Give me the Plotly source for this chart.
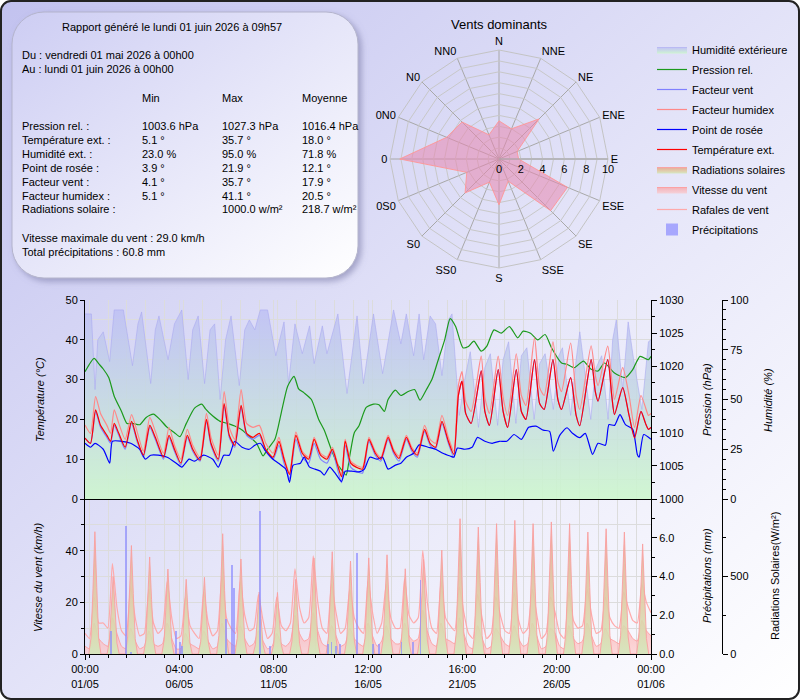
import base64

import pandas as pd
import plotly.graph_objects as go

FONT = "Liberation Sans, Arial, sans-serif"
GRID = "#dcdcdc"

# ---------------- report box text ----------------
report_title = "Rapport généré le lundi 01 juin 2026 à 09h57"
period_from = "Du : vendredi 01 mai 2026 à 00h00"
period_to = "Au : lundi 01 juin 2026 à 00h00"
stat_headers = ["Min", "Max", "Moyenne"]
stat_labels = ["Pression rel. :", "Température ext. :", "Humidité ext. :", "Point de rosée :",
               "Facteur vent :", "Facteur humidex :", "Radiations solaire :"]
stat_min = ["1003.6 hPa", "5.1 °", "23.0 %", "3.9 °", "4.1 °", "5.1 °", ""]
stat_max = ["1027.3 hPa", "35.7 °", "95.0 %", "21.9 °", "35.7 °", "41.1 °", "1000.0 w/m²"]
stat_mean = ["1016.4 hPa", "18.0 °", "71.8 %", "12.1 °", "17.9 °", "20.5 °", "218.7 w/m²"]
wind_max_text = "Vitesse maximale du vent : 29.0 km/h"
rain_total_text = "Total précipitations : 60.8 mm"

# ---------------- wind rose ----------------
rose_dirs = ["N", "NNE", "NE", "ENE", "E", "ESE", "SE", "SSE",
             "S", "SS0", "S0", "0S0", "0", "0N0", "N0", "NN0"]
rose_r = [3.5, 3.0, 5.2, 1.8, 1.8, 6.8, 6.7, 2.2,
          4.2, 2.3, 4.4, 3.2, 9.1, 5.2, 4.8, 2.4]

# ---------------- top chart (time in days since 01/05 00:00) ----------------
temp_day = [0.0, 0.3, 0.58, 0.85, 1.2, 1.4, 1.6, 1.85, 2.2, 2.55,
            2.85, 3.2, 3.55, 3.85, 4.3, 4.6, 4.9, 5.25, 5.6, 5.9,
            6.3, 6.65, 6.9, 7.3, 7.62, 7.9, 8.2, 8.55, 8.85, 9.2,
            9.55, 9.9, 10.3, 10.62, 10.9, 11.2, 11.55, 11.9, 12.25, 12.55,
            12.9, 13.25, 13.55, 13.8, 14.05, 14.25, 14.55, 14.85, 15.2, 15.55,
            15.9, 16.2, 16.6, 16.9, 17.2, 17.6, 17.9, 18.2, 18.6, 18.9,
            19.2, 19.55, 19.9, 20.2, 20.45, 20.65, 20.85, 21.15, 21.7, 21.9,
            22.15, 22.63, 22.9, 23.15, 23.62, 23.9, 24.15, 24.62, 24.9, 25.15,
            25.63, 25.9, 26.1, 26.6, 26.9, 27.1, 27.72, 27.95, 28.1, 28.63,
            28.85, 29.0, 29.45, 29.8, 30.1, 30.45, 30.7, 30.86, 31.0]
temp_c = [15.3, 14.0, 22.4, 18.5, 16.0, 14.5, 19.0, 16.5, 13.0, 19.5,
          15.0, 11.0, 18.5, 15.5, 10.5, 16.0, 12.5, 9.0, 16.0, 12.5,
          9.8, 20.0, 14.0, 10.0, 24.0, 16.0, 13.5, 23.5, 16.5, 15.5,
          16.5, 12.5, 10.5, 14.5, 10.0, 6.2, 16.0, 11.5, 10.0, 15.0,
          11.0, 10.0, 12.5, 9.0, 5.6, 14.5, 9.0, 8.0, 7.5, 15.0,
          11.5, 10.0, 15.5, 12.0, 10.2, 15.5, 12.5, 11.0, 17.5, 14.0,
          13.0, 19.5, 14.5, 11.2, 26.0, 29.6, 21.5, 19.0, 32.2, 22.0,
          18.5, 32.5, 22.0, 18.0, 32.5, 22.0, 20.0, 35.0, 24.0, 22.5,
          35.0, 25.0, 22.5, 30.5, 21.0, 18.4, 35.0, 27.0, 24.6, 35.0,
          26.0, 21.2, 28.0, 21.0, 15.4, 22.0, 19.0, 17.5, 18.0]
humidex_c = [18.6, 16.5, 25.7, 21.5, 18.5, 16.5, 22.4, 19.0, 15.0, 21.2,
             17.0, 12.0, 20.5, 17.0, 11.5, 18.0, 13.5, 10.0, 17.5, 13.5,
             10.5, 21.5, 15.5, 11.0, 27.0, 18.0, 15.0, 27.5, 19.0, 18.0,
             18.5, 14.0, 11.5, 15.5, 10.5, 6.5, 16.8, 12.0, 10.5, 15.5,
             11.5, 10.5, 13.0, 9.5, 5.8, 15.0, 9.5, 8.5, 8.0, 15.5,
             12.0, 10.5, 16.0, 12.5, 10.8, 16.0, 13.0, 11.5, 18.5, 15.0,
             14.0, 21.0, 15.5, 12.0, 28.5, 32.0, 24.5, 22.0, 35.9, 25.5,
             21.5, 35.9, 25.5, 21.0, 36.5, 26.0, 23.5, 40.5, 28.0, 26.0,
             39.5, 29.5, 27.0, 39.2, 26.0, 22.5, 38.5, 31.0, 28.5, 38.4,
             30.0, 25.0, 33.0, 26.0, 18.0, 26.0, 23.0, 21.0, 21.5]
windchill_c = [15.3, 14.0, 22.0, 18.0, 15.5, 14.0, 18.5, 16.0, 12.5, 19.0,
               14.5, 10.5, 18.0, 15.0, 10.0, 15.5, 12.0, 8.5, 15.5, 12.0,
               9.5, 19.5, 13.5, 9.5, 23.5, 15.5, 13.0, 23.0, 16.0, 15.0,
               16.0, 12.0, 10.0, 13.5, 9.0, 5.2, 15.0, 10.5, 9.0, 14.0,
               10.0, 9.0, 12.0, 8.0, 4.1, 13.5, 8.0, 7.0, 6.5, 14.5,
               11.0, 9.5, 15.0, 11.5, 9.5, 15.0, 12.0, 10.5, 17.0, 13.5,
               12.5, 19.0, 14.0, 10.5, 26.0, 29.6, 21.5, 19.0, 32.2, 22.0,
               18.5, 32.5, 22.0, 18.0, 32.5, 22.0, 20.0, 35.0, 24.0, 22.5,
               35.0, 25.0, 22.5, 30.5, 21.0, 18.4, 35.0, 27.0, 24.6, 35.0,
               26.0, 21.2, 28.0, 21.0, 15.4, 22.0, 19.0, 17.5, 18.0]

dew_day = [0.0, 0.3, 0.55, 1.0, 1.35, 1.5, 2.0, 2.5, 3.0, 3.3,
           3.6, 4.0, 4.5, 5.0, 5.3, 5.7, 6.0, 6.5, 7.0, 7.3,
           7.6, 7.9, 8.2, 8.6, 9.0, 9.3, 9.6, 9.9, 10.3, 10.6,
           11.0, 11.2, 11.4, 11.8, 12.0, 12.3, 12.6, 12.9, 13.1, 13.4,
           13.7, 14.05, 14.25, 14.6, 15.0, 15.3, 15.6, 16.0, 16.3, 16.6,
           17.0, 17.3, 17.6, 18.0, 18.3, 18.8, 19.2, 19.6, 20.0, 20.2,
           20.4, 20.8, 21.2, 21.5, 21.9, 22.3, 22.7, 23.1, 23.5, 23.9,
           24.3, 24.7, 25.1, 25.45, 25.65, 26.0, 26.4, 26.7, 27.1, 27.4,
           27.8, 28.1, 28.5, 28.7, 29.0, 29.3, 29.6, 30.0, 30.25, 30.35,
           30.6, 31.0]
dew_c = [14.0, 13.0, 14.0, 12.5, 9.0, 14.5, 14.5, 14.0, 12.5, 10.0,
         11.0, 11.0, 10.5, 9.0, 8.0, 10.0, 9.5, 11.0, 10.0, 8.0,
         11.0, 11.0, 14.5, 13.0, 12.5, 13.5, 14.0, 12.0, 10.0, 9.0,
         7.5, 4.2, 8.5, 9.0, 10.5, 8.0, 7.5, 7.0, 6.0, 8.0,
         6.5, 4.4, 7.0, 7.0, 6.8, 7.5, 10.5, 10.0, 10.5, 7.5,
         8.5, 9.0, 10.5, 11.5, 13.6, 13.0, 12.5, 11.5, 10.8, 10.5,
         12.8, 12.5, 13.0, 15.5, 14.5, 14.0, 14.5, 14.5, 16.2, 15.0,
         18.0, 18.3, 17.3, 17.0, 12.0, 16.0, 17.9, 16.5, 15.4, 16.5,
         11.2, 14.0, 13.5, 18.7, 18.5, 21.2, 18.7, 17.5, 11.2, 10.5,
         16.2, 15.0]

press_day = [0.0, 0.5, 0.75, 1.0, 1.3, 1.6, 2.0, 2.3, 2.6, 3.0,
             3.35, 3.75, 4.1, 4.5, 4.9, 5.2, 5.55, 6.0, 6.4, 6.6,
             7.0, 7.4, 7.8, 8.2, 8.6, 9.0, 9.4, 9.75, 10.0, 10.4,
             10.75, 11.1, 11.45, 11.7, 12.0, 12.4, 12.8, 13.1, 13.5, 13.8,
             14.05, 14.3, 14.5, 14.75, 15.0, 15.4, 15.8, 16.1, 16.4, 16.6,
             17.0, 17.3, 17.7, 18.05, 18.35, 18.7, 19.0, 19.35, 19.7, 20.0,
             20.3, 20.7, 21.0, 21.3, 21.7, 22.0, 22.4, 22.8, 23.25, 23.7,
             24.0, 24.4, 24.8, 25.2, 25.55, 26.1, 26.4, 26.8, 27.3, 27.7,
             28.1, 28.45, 29.0, 29.6, 30.0, 30.4, 30.86, 31.0]
press_hpa = [1019.2, 1021.2, 1020.4, 1019.6, 1018.3, 1015.5, 1013.2, 1011.4, 1011.4, 1011.2,
             1012.3, 1012.8, 1012.0, 1010.8, 1010.0, 1009.4, 1011.4, 1013.7, 1014.3, 1013.6,
             1012.5, 1011.7, 1011.4, 1011.0, 1010.4, 1009.4, 1008.4, 1006.5, 1007.5, 1009.0,
             1013.0, 1017.0, 1018.5, 1016.6, 1016.0, 1015.0, 1012.0, 1010.4, 1007.4, 1005.4,
             1004.4, 1003.6, 1006.5, 1010.0, 1011.0, 1013.8, 1014.3, 1014.2, 1013.2, 1015.0,
             1016.4, 1015.6, 1016.2, 1016.5, 1014.9, 1016.5, 1018.0, 1021.0, 1024.0, 1027.2,
             1026.0, 1022.8, 1023.0, 1023.8, 1022.3, 1023.0, 1025.5, 1025.0, 1026.0, 1024.3,
             1025.3, 1025.0, 1024.0, 1024.8, 1022.8, 1020.5, 1020.3, 1019.8, 1020.8, 1019.6,
             1019.3, 1020.5, 1019.0, 1018.3, 1019.5, 1021.5, 1021.0, 1021.5]

hum_day = [0.0, 0.35, 0.55, 0.7, 1.0, 1.35, 1.6, 2.1, 2.6, 2.9,
           3.1, 3.6, 3.85, 4.05, 4.55, 4.9, 5.3, 5.65, 5.9, 6.2,
           6.55, 6.85, 7.1, 7.4, 7.7, 8.0, 8.45, 8.75, 9.0, 9.3,
           9.6, 10.0, 10.45, 10.9, 11.15, 11.5, 11.9, 12.3, 12.55, 13.0,
           13.25, 13.85, 14.35, 14.9, 15.25, 15.8, 16.3, 16.9, 17.3, 17.6,
           18.0, 18.3, 18.55, 18.9, 19.2, 19.55, 19.9, 20.1, 20.5, 20.8,
           21.1, 21.55, 21.9, 22.2, 22.6, 22.9, 23.2, 23.6, 23.9, 24.2,
           24.6, 24.9, 25.2, 25.65, 25.95, 26.15, 26.6, 26.9, 27.1, 27.7,
           27.95, 28.3, 28.65, 28.9, 29.1, 29.45, 29.75, 30.05, 30.5, 30.86,
           31.0]
hum_pct = [93, 93, 55, 80, 84, 69, 95, 95, 67, 88,
           94, 58, 85, 92, 70, 88, 95, 60, 85, 92,
           58, 85, 88, 50, 80, 92, 57, 85, 90, 85,
           95, 95, 72, 89, 58, 88, 73, 87, 68, 87,
           73, 93, 53, 92, 58, 93, 63, 95, 78, 93,
           72, 93, 70, 92, 88, 62, 90, 93, 42, 60,
           74, 36, 66, 73, 37, 70, 79, 38, 72, 76,
           40, 68, 73, 45, 72, 76, 42, 70, 84, 40,
           65, 72, 40, 80, 90, 55, 89, 70, 45, 79,
           80]

# ---------------- bottom chart ----------------
# wind speed / gusts every 6 h (00h, 06h, 12h, 18h)
wind_kmh = [3, 2, 12, 6,  4, 3, 14, 8,  3, 2, 10, 5,  2, 3, 9, 4,
            3, 4, 12, 6,  2, 2, 8, 4,  3, 2, 9, 5,  2, 3, 12, 6,
            4, 3, 11, 6,  3, 4, 9, 5,  2, 3, 8, 4,  3, 5, 15, 8,
            5, 6, 16, 9,  4, 3, 11, 7,  3, 4, 10, 6,  4, 3, 12, 7,
            3, 5, 11, 6,  4, 4, 12, 7,  5, 6, 17, 9,  4, 3, 12, 6,
            5, 4, 14, 8,  3, 2, 11, 6,  2, 3, 10, 7,  4, 3, 11, 6,
            3, 4, 12, 7,  2, 3, 10, 8,  3, 2, 11, 6,  4, 5, 12, 7,
            3, 4, 10, 6,  5, 4, 11, 9,  6, 5, 13, 9,  7]
gust_kmh = [8, 6, 22, 12,  12, 10, 35, 18,  9, 7, 26, 14,  7, 8, 25, 12,
            8, 10, 28, 14,  6, 7, 22, 11,  8, 6, 24, 12,  7, 9, 30, 14,
            10, 8, 28, 15,  9, 10, 23, 13,  6, 8, 22, 11,  9, 12, 33, 18,
            12, 14, 38, 20,  10, 8, 27, 16,  8, 10, 25, 14,  10, 8, 28, 16,
            8, 12, 27, 14,  10, 10, 29, 15,  12, 14, 40, 20,  10, 8, 28, 14,
            11, 9, 26, 16,  8, 6, 23, 14,  6, 8, 22, 15,  9, 8, 24, 13,
            8, 10, 25, 15,  6, 8, 22, 16,  8, 6, 24, 13,  10, 11, 25, 15,
            8, 9, 22, 14,  11, 10, 24, 18,  13, 12, 27, 20,  16]

# solar radiation, one row per day at these hours
solar_hours = [5, 8, 10.5, 13, 15.5, 18, 21]
solar_wm2 = [
    [0, 110, 420, 789, 430, 100, 0], [0, 80, 280, 500, 300, 70, 0],
    [0, 110, 380, 700, 390, 100, 0], [0, 90, 340, 626, 350, 90, 0],
    [0, 90, 300, 548, 310, 80, 0], [0, 70, 260, 482, 270, 70, 0],
    [0, 80, 270, 495, 260, 80, 0], [0, 120, 420, 776, 410, 110, 0],
    [0, 100, 340, 613, 330, 90, 0], [0, 60, 220, 400, 230, 60, 0],
    [0, 60, 210, 397, 220, 60, 0], [0, 80, 260, 482, 270, 70, 0],
    [0, 100, 340, 620, 350, 90, 0], [0, 110, 360, 660, 350, 100, 0],
    [0, 90, 330, 600, 320, 90, 0], [0, 100, 340, 620, 340, 90, 0],
    [0, 100, 350, 640, 350, 100, 0], [0, 90, 300, 550, 290, 80, 0],
    [0, 100, 330, 610, 340, 90, 0], [0, 110, 370, 670, 360, 100, 0],
    [0, 140, 470, 873, 480, 130, 0], [0, 130, 450, 819, 460, 120, 0],
    [0, 140, 460, 841, 450, 130, 0], [0, 140, 470, 862, 460, 130, 0],
    [0, 130, 460, 841, 460, 120, 0], [0, 140, 470, 852, 470, 130, 0],
    [0, 130, 460, 841, 450, 120, 0], [0, 120, 430, 787, 430, 110, 0],
    [0, 130, 440, 808, 440, 120, 0], [0, 120, 430, 787, 420, 110, 0],
    [0, 110, 390, 710, 400, 100, 0],
]

# rain events: hour since start, mm
precip_hour = [34.5, 53.3, 60.8, 120, 124.3, 127, 185.8, 193.1, 196.3, 229.6, 242.7,
               319, 324, 329.6, 334.8, 358, 378, 387, 416, 431, 441]
precip_mm = [1.2, 6.6, 0.1, 1.2, 0.6, 0.4, 1.8, 4.6, 3.4, 7.4, 0.4,
             0.5, 0.6, 0.4, 0.5, 5.2, 0.5, 0.5, 0.6, 0.6, 3.8]

t_start = pd.Timestamp("2026-05-01 00:00")
t_end = pd.Timestamp("2026-06-01 00:00")


def days(d):
    return t_start + pd.to_timedelta(d, unit="D")


t6 = pd.date_range(t_start, periods=len(wind_kmh), freq="6h")
sol_x, sol_y = [], []
for i, row in enumerate(solar_wm2):
    for h, v in zip(solar_hours, row):
        sol_x.append(t_start + pd.Timedelta(days=i, hours=h))
        sol_y.append(v)
precip_x = t_start + pd.to_timedelta(precip_hour, unit="h")


def px(x):
    return x / 800


def py(y):
    return 1 - y / 700


fig = go.Figure()

# top chart
fig.add_trace(go.Scatter(
    x=days(hum_day), y=hum_pct, name="Humidité extérieure", xaxis="x2", yaxis="y",
    mode="lines", line=dict(color="rgba(170,170,240,0.6)", width=1),
    fill="tozeroy",
    fillgradient=dict(type="vertical", start=0, stop=100,
                      colorscale=[[0, "rgba(205,247,205,0.9)"], [1, "rgba(188,188,246,0.8)"]]),
    legendgroup="a1"))
fig.add_trace(go.Scatter(
    x=days(press_day), y=press_hpa, name="Pression rel.", xaxis="x2", yaxis="y2",
    mode="lines", line=dict(color="#1c9a1c", width=1.2, shape="spline", smoothing=0.6),
    legendgroup="a2"))
fig.add_trace(go.Scatter(
    x=days(temp_day), y=windchill_c, name="Facteur vent", xaxis="x2", yaxis="y3",
    mode="lines", line=dict(color="#8080ff", width=1.2, shape="spline", smoothing=0.6),
    legendgroup="a3"))
fig.add_trace(go.Scatter(
    x=days(temp_day), y=humidex_c, name="Facteur humidex", xaxis="x2", yaxis="y3",
    mode="lines", line=dict(color="#ff8888", width=1.2, shape="spline", smoothing=0.6),
    legendgroup="a4"))
fig.add_trace(go.Scatter(
    x=days(dew_day), y=dew_c, name="Point de rosée", xaxis="x2", yaxis="y3",
    mode="lines", line=dict(color="#0000ff", width=1.2, shape="spline", smoothing=0.6),
    legendgroup="a5"))
fig.add_trace(go.Scatter(
    x=days(temp_day), y=temp_c, name="Température ext.", xaxis="x2", yaxis="y3",
    mode="lines", line=dict(color="#ff0000", width=1.2, shape="spline", smoothing=0.6),
    legendgroup="a6"))

# bottom chart
fig.add_trace(go.Scatter(
    x=sol_x, y=sol_y, name="Radiations solaires", xaxis="x", yaxis="y5",
    mode="lines", line=dict(color="rgba(250,160,160,0.9)", width=1),
    fill="tozeroy",
    fillgradient=dict(type="vertical", start=0, stop=850,
                      colorscale=[[0, "rgba(210,232,185,0.85)"], [0.35, "rgba(222,208,168,0.9)"],
                                  [1, "rgba(232,168,148,0.95)"]]),
    legendgroup="a7"))
fig.add_trace(go.Scatter(
    x=t6, y=wind_kmh, name="Vitesse du vent", xaxis="x", yaxis="y4",
    mode="lines", line=dict(color="rgba(255,150,150,0.8)", width=1, shape="spline", smoothing=0.5),
    fill="tozeroy",
    fillgradient=dict(type="vertical", start=0, stop=16,
                      colorscale=[[0, "rgba(255,195,195,0.6)"], [1, "rgba(250,150,150,0.65)"]]),
    legendgroup="a8"))
fig.add_trace(go.Scatter(
    x=t6, y=gust_kmh, name="Rafales de vent", xaxis="x", yaxis="y4",
    mode="lines", line=dict(color="rgba(255,165,165,0.95)", width=1.2, shape="spline", smoothing=0.5),
    legendgroup="a9"))
fig.add_trace(go.Bar(
    x=precip_x, y=precip_mm, name="Précipitations", xaxis="x", yaxis="y6",
    width=2.5 * 3600 * 1000, marker=dict(color="rgba(140,140,255,0.7)", line=dict(width=0)),
    legendgroup="b1"))

# wind rose
fig.add_trace(go.Scatterpolar(
    r=rose_r + rose_r[:1], theta=rose_dirs + rose_dirs[:1], mode="lines",
    fill="toself", fillcolor="rgba(232,135,175,0.55)",
    line=dict(color="rgba(255,150,150,0.9)", width=1), showlegend=False))

# ---------------- annotations ----------------
ann = []


def txt(text, x, y, size=11, xanchor="left", angle=0):
    ann.append(dict(text=text, x=px(x), y=py(y), xref="paper", yref="paper",
                    xanchor=xanchor, yanchor="middle", showarrow=False, textangle=angle,
                    font=dict(family=FONT, size=size, color="black")))


txt(report_title, 60, 27)
txt(period_from, 20, 55)
txt(period_to, 20, 69)
for head, cx in zip(stat_headers, [140, 220, 300]):
    txt(head, cx, 98)
for i, lab in enumerate(stat_labels):
    y = 126 + 13.9 * i
    txt(lab, 20, y)
    txt(stat_min[i], 140, y)
    txt(stat_max[i], 220, y)
    txt(stat_mean[i], 300, y)
txt(wind_max_text, 20, 238)
txt(rain_total_text, 20, 252)

txt("Vents dominants", 499, 25, size=13, xanchor="center")

txt("<i>Température (°C)</i>", 40, 400, xanchor="center", angle=-90)
txt("<i>Pression (hPa)</i>", 707, 400, xanchor="center", angle=-90)
txt("<i>Humidité (%)</i>", 768, 400, xanchor="center", angle=-90)
txt("<i>Vitesse du vent (km/h)</i>", 38, 577, xanchor="center", angle=-90)
txt("<i>Précipitations (mm)</i>", 707, 576, xanchor="center", angle=-90)
txt("Radiations Solaires(W/m²)", 775, 576, xanchor="center", angle=-90)

# ---------------- background ----------------
svg = """<svg xmlns="http://www.w3.org/2000/svg" width="800" height="700" viewBox="0 0 800 700">
<defs>
<linearGradient id="bg" x1="0" y1="0" x2="1" y2="1">
<stop offset="0" stop-color="#c2c2ef"/><stop offset="0.55" stop-color="#e6e6f9"/><stop offset="1" stop-color="#ffffff"/>
</linearGradient>
<linearGradient id="box" x1="0" y1="0" x2="1" y2="1">
<stop offset="0" stop-color="#cdcdf3"/><stop offset="1" stop-color="#ffffff"/>
</linearGradient>
<filter id="sh" x="-10%" y="-10%" width="130%" height="130%">
<feDropShadow dx="3" dy="3" stdDeviation="3" flood-color="#7070a0" flood-opacity="0.55"/>
</filter>
</defs>
<rect x="1" y="1" width="798" height="698" rx="10" fill="url(#bg)" stroke="#222" stroke-width="2"/>
<rect x="12" y="12" width="346" height="266" rx="32" fill="url(#box)" stroke="#b4b4cc" stroke-width="1" filter="url(#sh)"/>
</svg>"""
bg_src = "data:image/svg+xml;base64," + base64.b64encode(svg.encode("utf-8")).decode("ascii")

ms_h = 3600 * 1000
xdom = [px(85), px(651)]
x_minor = dict(dtick=24.8 * ms_h, showgrid=True, gridcolor=GRID, gridwidth=1)

fig.update_layout(
    width=800, height=700,
    margin=dict(l=0, r=0, t=0, b=0, autoexpand=False),
    paper_bgcolor="white", plot_bgcolor="white",
    font=dict(family=FONT, size=11, color="black"),
    annotations=ann,
    images=[dict(source=bg_src, xref="paper", yref="paper", x=0, y=1, sizex=1, sizey=1,
                 xanchor="left", yanchor="top", sizing="stretch", layer="below")],
    legend=dict(x=px(652), y=py(35), xanchor="left", yanchor="top",
                bgcolor="rgba(0,0,0,0)", font=dict(family=FONT, size=11),
                tracegroupgap=1, itemwidth=30),
    bargap=0,
    xaxis=dict(domain=xdom, anchor="y4", type="date", range=[t_start, t_end],
               tick0=t_start, dtick=124 * ms_h, tickformat="%H:%M<br>%d/%m",
               ticks="outside", ticklen=5, tickcolor="black",
               showgrid=True, gridcolor=GRID, showline=True, linecolor="black", linewidth=1,
               zeroline=False,
               minor=dict(x_minor, ticks="outside", ticklen=3, tickcolor="black")),
    xaxis2=dict(domain=xdom, anchor="y", type="date", matches="x",
                tick0=t_start, dtick=124 * ms_h, showticklabels=False, ticks="",
                showgrid=True, gridcolor=GRID, showline=True, linecolor="black", linewidth=1,
                zeroline=False, minor=x_minor),
    # humidity (main of top chart)
    yaxis=dict(domain=[py(499), py(300)], anchor="free", position=px(722), side="right",
               range=[0, 100], tickvals=[0, 25, 50, 75, 100], ticks="outside", ticklen=5,
               tickcolor="black", showgrid=False, zeroline=False, showline=True,
               linecolor="black", minor=dict(dtick=5, ticks="outside", ticklen=3, tickcolor="black")),
    yaxis2=dict(overlaying="y", anchor="x2", side="right", range=[1000, 1030],
                tickvals=[1000, 1005, 1010, 1015, 1020, 1025, 1030], ticks="outside", ticklen=5,
                tickcolor="black", showgrid=False, zeroline=False, showline=True, linecolor="black",
                minor=dict(dtick=2.5, ticks="outside", ticklen=3, tickcolor="black")),
    yaxis3=dict(overlaying="y", anchor="x2", side="left", range=[0, 50],
                tickvals=[0, 10, 20, 30, 40, 50], ticks="outside", ticklen=4, tickcolor="black",
                showgrid=True, gridcolor=GRID, zeroline=False, showline=True, linecolor="black",
                minor=dict(dtick=5, showgrid=True, gridcolor=GRID)),
    # wind (main of bottom chart)
    yaxis4=dict(domain=[py(654), py(499)], anchor="x", side="left", range=[0, 60],
                tickvals=[0, 20, 40], ticks="outside", ticklen=4, tickcolor="black",
                showgrid=True, gridcolor=GRID, zeroline=False, showline=True, linecolor="black",
                minor=dict(dtick=10, showgrid=True, gridcolor=GRID, ticks="outside", ticklen=3,
                           tickcolor="black")),
    yaxis5=dict(overlaying="y4", anchor="free", position=px(722), side="right", range=[0, 1000],
                tickvals=[0, 500], ticks="outside", ticklen=5, tickcolor="black",
                showgrid=False, zeroline=False, showline=True, linecolor="black",
                minor=dict(dtick=250, ticks="outside", ticklen=3, tickcolor="black")),
    yaxis6=dict(overlaying="y4", anchor="x", side="right", range=[0, 8],
                tickvals=[0, 2, 4, 6], tickformat=".1f", ticks="outside", ticklen=5,
                tickcolor="black", showgrid=False, zeroline=False, showline=True,
                linecolor="black", minor=dict(dtick=1, ticks="outside", ticklen=3, tickcolor="black")),
    polar=dict(
        domain=dict(x=[px(390), px(608)], y=[py(268), py(50)]),
        bgcolor="rgba(0,0,0,0)", gridshape="linear",
        angularaxis=dict(type="category", categoryarray=rose_dirs, rotation=90,
                         direction="clockwise", gridcolor="#a8a8a8", linecolor="#c4c4c4",
                         tickfont=dict(family=FONT, size=11), ticks=""),
        radialaxis=dict(range=[0, 10], tickvals=list(range(11)),
                        ticktext=["0", "", "2", "", "4", "", "6", "", "8", "", "10"],
                        angle=0, tickangle=0, side="clockwise", gridcolor="#c8c8c8",
                        showline=True, linecolor="#a8a8a8", ticks="",
                        tickfont=dict(family=FONT, size=11)),
    ),
)

fig.write_html("out.html", config={"displayModeBar": False},
               post_script="document.body.style.margin='0';")
